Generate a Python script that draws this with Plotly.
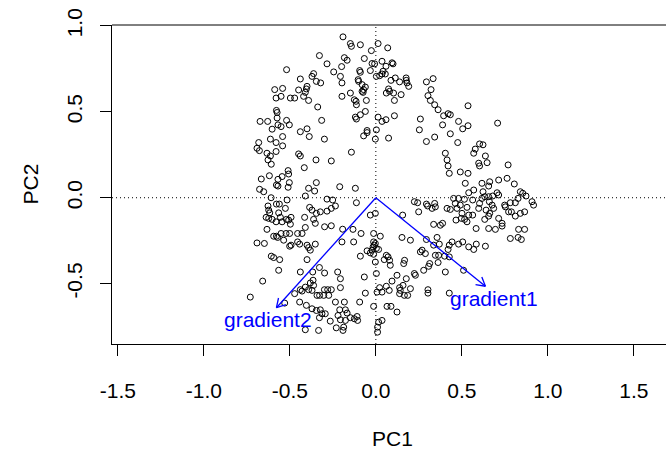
import math
import plotly.graph_objects as go

# Site scores on the first two principal components
pc1 = [
    -0.191, -0.328, -0.183, -0.284, -0.519, -0.199, -0.245, -0.362, -0.371, -0.206,
    -0.439, -0.346, -0.321, -0.197, -0.400, -0.404, -0.588, -0.542, -0.449, -0.410,
    -0.580, -0.551, -0.497, -0.472, -0.420, -0.391, -0.197, -0.338, -0.578, -0.574,
    -0.315, -0.673, -0.629, -0.574, -0.519, -0.569, -0.551, -0.503, -0.603, -0.400,
    -0.439,
    -0.148, -0.142, -0.090, 0.013, 0.069, -0.026, -0.167, -0.067, -0.022, -0.007,
    0.036, 0.094, 0.100, 0.059, -0.032, -0.094, -0.090, 0.042, 0.036, 0.022,
    0.003, 0.055, -0.103, -0.100, -0.080, -0.061, -0.071, -0.080, -0.074, 0.088,
    0.113, 0.138, 0.176, 0.177, 0.181, 0.191, 0.074, 0.080, 0.061, 0.103,
    0.147, 0.108, 0.294, 0.333, 0.321, 0.303, 0.317, 0.342, 0.362, -0.148,
    -0.125, -0.115, -0.113, -0.055, -0.061, -0.119, -0.113, -0.090, 0.013, 0.036,
    0.059, 0.108, 0.259, 0.253, -0.051, 0.003,
    0.536, 0.394, 0.420, 0.433, 0.388, 0.481, 0.505, 0.536, 0.708, 0.433,
    -0.542, -0.613, -0.580, -0.681, -0.542, -0.387, -0.299, -0.691, -0.677, -0.633,
    -0.580, -0.613, -0.627, -0.608, -0.449, -0.439, -0.348, -0.259, -0.416, -0.619,
    -0.666, -0.510, -0.507, -0.545, -0.569, -0.578, -0.569, -0.503, -0.510, -0.676,
    -0.652, -0.346, -0.391, -0.356, -0.210, -0.410, -0.609, -0.516, -0.578, -0.561,
    -0.627, -0.284, -0.251, -0.235, -0.385, -0.371, -0.526, -0.623, -0.617, -0.565,
    -0.284, -0.323, -0.259, -0.346, -0.638, -0.623, -0.603, -0.555, -0.520, -0.493,
    -0.580, -0.545, -0.507, -0.497, -0.414, -0.362, -0.352, -0.410, -0.298, -0.259,
    -0.633, -0.551, -0.522, -0.455, -0.193,
    -0.071, -0.051, -0.003, 0.074, 0.294, 0.342, -0.142, -0.119, -0.113, -0.003,
    -0.032, 0.156, 0.224, 0.243, 0.249, 0.294, 0.301, 0.327, 0.342, 0.346,
    0.336, -0.133, -0.086, -0.013,
    0.476, 0.603, 0.623, 0.578, 0.569, 0.404, 0.637, 0.414, 0.647, 0.598,
    0.603, 0.420, 0.769, 0.427, 0.491, 0.536, 0.520, 0.617, 0.662, 0.656,
    0.714, 0.763, 0.805, 0.569, 0.540, 0.623, 0.705, 0.714, 0.679, 0.840,
    0.854, 0.873, 0.617, 0.633, 0.656, 0.452, 0.481, 0.515, 0.563, 0.462,
    0.491, 0.530, 0.603, 0.660, 0.676, 0.749, 0.782, 0.811, 0.827, 0.908,
    0.917, 0.414, 0.433, 0.472, 0.598, 0.641, 0.685, 0.753, 0.772, 0.788,
    0.811, 0.840, 0.865, 0.501, 0.540, 0.563, 0.662, 0.656, 0.714, 0.633,
    0.466, 0.516, 0.530, 0.497, 0.734, 0.734, 0.375, 0.388, 0.583, 0.656,
    0.695, 0.830, 0.865,
    0.356, 0.369, 0.427, 0.443, 0.481, 0.505, 0.540, 0.569, 0.584, 0.637,
    0.420, 0.346, 0.365, 0.400, 0.427, 0.362, 0.404, 0.510, 0.427, 0.782,
    0.827, 0.846,
    -0.594, -0.578, -0.501, -0.429, -0.691, -0.648, -0.571, -0.536, -0.493, -0.501,
    -0.455, -0.443, -0.400, -0.391, -0.352, -0.381, -0.608, -0.594, -0.559, -0.400,
    -0.565, -0.439, -0.367, -0.328, -0.298, -0.222, -0.206, -0.658, -0.365, -0.381,
    -0.410, -0.391, -0.371, -0.362, -0.439, -0.472, -0.429, -0.342, -0.327, -0.299,
    -0.280, -0.259, -0.303, -0.274, -0.235, -0.206, -0.730, -0.530, -0.443, -0.404,
    -0.371, -0.346, -0.323, -0.313, -0.328, -0.294, -0.265, -0.220, -0.210, -0.206,
    -0.410, -0.333, -0.230, -0.191,
    -0.197, -0.129, 0.026, 0.152, 0.201, 0.294, 0.336, -0.013, -0.003, -0.009,
    -0.016, 0.003, -0.022, -0.051, 0.016, -0.032, -0.013, -0.090, -0.003, 0.061,
    0.071, 0.049, 0.080, 0.084, 0.167, 0.162, 0.259, 0.269, 0.288, 0.313,
    0.307, 0.278, 0.224, 0.230, 0.177, 0.123, 0.094, 0.003, -0.067, -0.061,
    0.007, 0.022, 0.036, 0.061, 0.078, 0.138, 0.142, 0.158, 0.138, 0.166,
    0.185, 0.201, 0.303, 0.303, -0.094, -0.183, -0.177, -0.167, -0.148, -0.125,
    -0.109, -0.106, -0.177, -0.187, -0.013, 0.065, 0.088, 0.123, 0.016, 0.036,
    0.010, 0.010,
]
pc2 = [
    0.936, 0.827, 0.815, 0.779, 0.745, 0.763, 0.732, 0.722, 0.706, 0.706,
    0.691, 0.677, 0.668, 0.668, 0.648, 0.633, 0.629, 0.636, 0.627, 0.613,
    0.580, 0.590, 0.580, 0.580, 0.590, 0.566, 0.590, 0.528, 0.508, 0.496,
    0.450, 0.444, 0.444, 0.464, 0.450, 0.424, 0.414, 0.424, 0.399, 0.401,
    0.384,
    0.897, 0.881, 0.890, 0.897, 0.872, 0.856, 0.800, 0.810, 0.781, 0.779,
    0.794, 0.785, 0.779, 0.765, 0.740, 0.740, 0.730, 0.736, 0.720, 0.710,
    0.706, 0.720, 0.687, 0.677, 0.658, 0.644, 0.629, 0.619, 0.613, 0.683,
    0.697, 0.674, 0.697, 0.683, 0.668, 0.648, 0.633, 0.619, 0.609, 0.609,
    0.600, 0.566, 0.674, 0.693, 0.629, 0.594, 0.566, 0.541, 0.512, 0.609,
    0.570, 0.561, 0.541, 0.566, 0.502, 0.469, 0.458, 0.483, 0.469, 0.444,
    0.454, 0.477, 0.458, 0.395, 0.391, 0.395,
    0.535, 0.477, 0.489, 0.483, 0.424, 0.444, 0.401, 0.419, 0.434, 0.372,
    0.356, 0.341, 0.321, 0.321, 0.302, 0.356, 0.341, 0.288, 0.274, 0.259,
    0.269, 0.243, 0.220, 0.195, 0.255, 0.243, 0.220, 0.214, 0.175, 0.128,
    0.109, 0.158, 0.138, 0.123, 0.107, 0.074, 0.068, 0.088, 0.061, 0.049,
    0.035, 0.088, 0.055, 0.039, 0.064, 0.010, 0.000, -0.013, -0.037, -0.037,
    -0.048, -0.008, -0.013, -0.048, -0.056, -0.072, -0.062, -0.072, -0.088, -0.088,
    -0.078, -0.082, -0.062, -0.091, -0.114, -0.120, -0.126, -0.114, -0.126, -0.114,
    -0.140, -0.140, -0.130, -0.154, -0.114, -0.126, -0.149, -0.173, -0.169, -0.163,
    -0.184, -0.208, -0.208, -0.208, -0.183,
    0.360, 0.379, 0.341, 0.347, 0.327, 0.353, 0.265, 0.055, -0.029, -0.091,
    -0.101, -0.101, -0.023, -0.029, -0.082, -0.037, -0.048, -0.062, -0.033, -0.053,
    -0.155, -0.184, -0.208, -0.208,
    0.321, 0.313, 0.308, 0.283, 0.259, 0.259, 0.243, 0.220, 0.204, 0.201,
    0.185, 0.185, 0.191, 0.142, 0.150, 0.142, 0.084, 0.084, 0.093, 0.068,
    0.103, 0.113, 0.080, 0.045, 0.029, 0.035, 0.029, 0.016, 0.010, 0.035,
    0.026, 0.010, -0.004, 0.006, 0.006, -0.004, -0.004, -0.009, -0.013, -0.033,
    -0.043, -0.056, -0.033, -0.023, -0.043, -0.043, -0.029, -0.029, -0.004, -0.023,
    -0.043, -0.062, -0.068, -0.062, -0.062, -0.072, -0.062, -0.053, -0.082, -0.082,
    -0.107, -0.091, -0.082, -0.091, -0.101, -0.101, -0.091, -0.107, -0.120, -0.126,
    -0.130, -0.126, -0.140, -0.120, -0.149, -0.165, -0.160, -0.149, -0.179, -0.179,
    -0.184, -0.184, -0.184,
    -0.231, -0.270, -0.276, -0.257, -0.270, -0.257, -0.286, -0.301, -0.270, -0.282,
    -0.301, -0.335, -0.335, -0.340, -0.344, -0.377, -0.432, -0.422, -0.555, -0.237,
    -0.231, -0.243,
    -0.224, -0.224, -0.208, -0.208, -0.263, -0.266, -0.231, -0.247, -0.276, -0.282,
    -0.257, -0.270, -0.276, -0.290, -0.270, -0.305, -0.340, -0.348, -0.360, -0.360,
    -0.422, -0.432, -0.432, -0.406, -0.438, -0.432, -0.471, -0.485, -0.480, -0.496,
    -0.520, -0.535, -0.539, -0.510, -0.535, -0.558, -0.543, -0.568, -0.568, -0.535,
    -0.535, -0.535, -0.568, -0.568, -0.607, -0.523, -0.578, -0.613, -0.607, -0.626,
    -0.646, -0.656, -0.652, -0.675, -0.698, -0.675, -0.718, -0.685, -0.652, -0.710,
    -0.768, -0.772, -0.757, -0.772,
    -0.257, -0.257, -0.224, -0.231, -0.247, -0.243, -0.276, -0.257, -0.266, -0.276,
    -0.286, -0.295, -0.305, -0.309, -0.301, -0.321, -0.329, -0.340, -0.374, -0.335,
    -0.344, -0.360, -0.364, -0.393, -0.364, -0.383, -0.315, -0.305, -0.325, -0.383,
    -0.399, -0.422, -0.441, -0.451, -0.471, -0.451, -0.485, -0.441, -0.461, -0.555,
    -0.549, -0.523, -0.549, -0.515, -0.539, -0.523, -0.539, -0.510, -0.558, -0.568,
    -0.568, -0.529, -0.535, -0.555, -0.607, -0.607, -0.652, -0.671, -0.698, -0.704,
    -0.691, -0.714, -0.714, -0.753, -0.632, -0.632, -0.632, -0.665, -0.724, -0.714,
    -0.753, -0.782,
]

# Fitted environmental vectors
grad_names = ["gradient1", "gradient2"]
grad_pc1 = [0.637, -0.578]
grad_pc2 = [-0.515, -0.640]

x_ticks = [-1.5, -1.0, -0.5, 0.0, 0.5, 1.0, 1.5]
y_ticks = [-0.5, 0.0, 0.5, 1.0]

FONT = "Liberation Sans, Arial, Helvetica, sans-serif"
FS = 21
BLUE = "#0000ff"

fig = go.Figure()

# points
fig.add_trace(go.Scatter(
    x=pc1, y=pc2, mode="markers",
    marker=dict(symbol="circle-open", size=6, color="black", line=dict(width=1)),
    hoverinfo="skip",
))

# arrows from the origin with open heads; labels pushed out past the tips
head_len, head_ang = 0.058, math.radians(30)
lab_dx, lab_dy = 0.05, 0.07
for name, gx, gy in zip(grad_names, grad_pc1, grad_pc2):
    fig.add_trace(go.Scatter(x=[0, gx], y=[0, gy], mode="lines",
                             line=dict(color=BLUE, width=1.3), hoverinfo="skip"))
    n = math.hypot(gx, gy)
    ux, uy = gx / n, gy / n
    hx, hy = [], []
    for s in (1, -1):
        c, si = math.cos(s * head_ang), math.sin(s * head_ang)
        rx, ry = ux * c - uy * si, ux * si + uy * c
        hx += [gx - head_len * rx, gx, None]
        hy += [gy - head_len * ry, gy, None]
    fig.add_trace(go.Scatter(x=hx, y=hy, mode="lines",
                             line=dict(color=BLUE, width=1.3), hoverinfo="skip"))
    fig.add_annotation(x=gx + math.copysign(lab_dx, gx),
                       y=gy + math.copysign(lab_dy, gy),
                       text=name, showarrow=False,
                       xanchor="center", yanchor="middle",
                       font=dict(family=FONT, size=FS, color=BLUE))

# dotted reference lines through the origin
fig.add_shape(type="line", xref="paper", x0=0, x1=1, yref="y", y0=0, y1=0,
              line=dict(color="black", width=1, dash="1px,3px"), layer="below")
fig.add_shape(type="line", xref="x", x0=0, x1=0, yref="paper", y0=0, y1=1,
              line=dict(color="black", width=1, dash="1px,3px"), layer="below")
# top of the frame
fig.add_shape(type="line", xref="paper", x0=0, x1=1, yref="paper", y0=1, y1=1,
              line=dict(color="black", width=1))

fig.add_annotation(text="PC1", xref="paper", yref="paper", x=0.507, y=-0.295,
                   showarrow=False, xanchor="center", yanchor="middle",
                   font=dict(family=FONT, size=FS, color="black"))
fig.add_annotation(text="PC2", xref="paper", yref="paper", x=-0.148, y=0.5,
                   showarrow=False, textangle=-90, xanchor="center", yanchor="middle",
                   font=dict(family=FONT, size=FS, color="black"))

fig.update_layout(
    width=666, height=454,
    margin=dict(l=112, r=0, t=25, b=110),
    paper_bgcolor="white", plot_bgcolor="white",
    showlegend=False,
    xaxis=dict(range=[-1.534, 1.687], tickvals=x_ticks,
               ticktext=[f"{v:.1f}" for v in x_ticks],
               ticks="outside", ticklen=11, tickwidth=1, tickcolor="black",
               showline=True, linecolor="black", linewidth=1,
               showgrid=False, zeroline=False, ticklabelstandoff=17,
               tickfont=dict(family=FONT, size=FS, color="black")),
    yaxis=dict(range=[-0.851, 1.005], tickvals=y_ticks,
               ticktext=[f"{v:.1f}" for v in y_ticks],
               ticks="outside", ticklen=11, tickwidth=1, tickcolor="black",
               showline=True, linecolor="black", linewidth=1, tickangle=-90,
               showgrid=False, zeroline=False, ticklabelstandoff=10,
               tickfont=dict(family=FONT, size=FS, color="black")),
)

fig.write_html("out.html")
